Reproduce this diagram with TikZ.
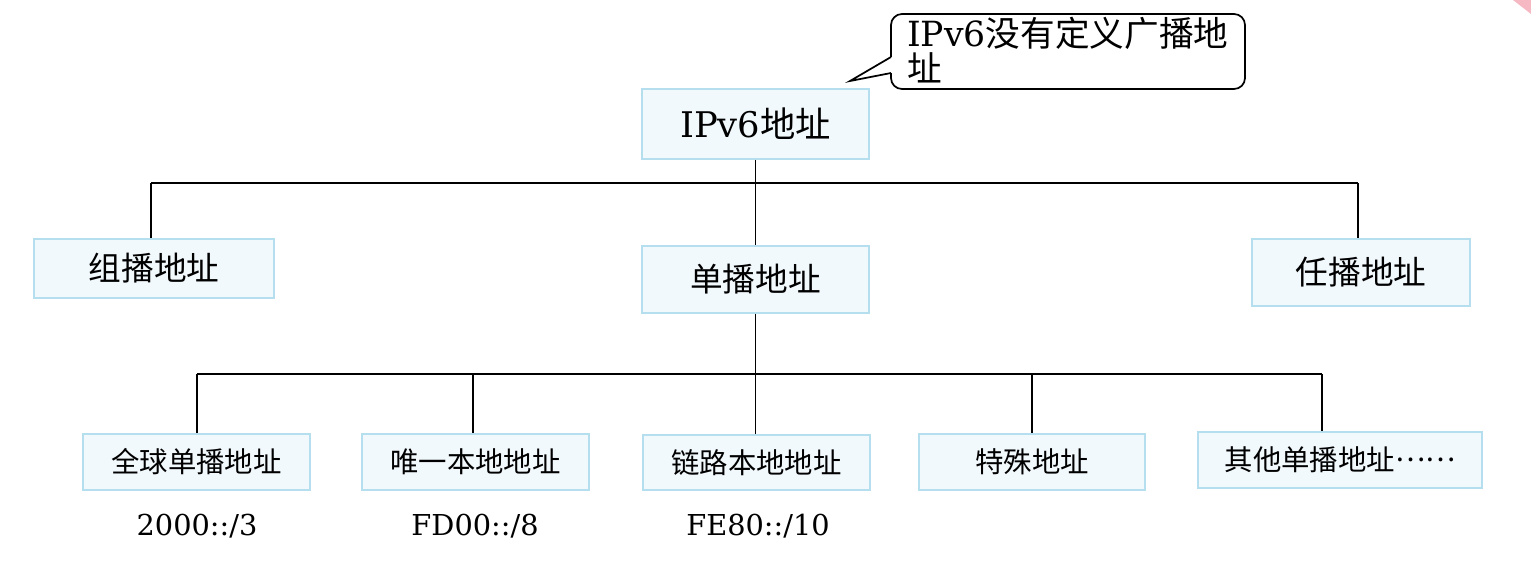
\documentclass[tikz,border=0pt]{standalone}
\usepackage{fontspec}
\setmainfont{DejaVu Serif}
\newfontfamily\cjk{Noto Sans CJK SC}
\definecolor{boxfill}{HTML}{F2F9FD}
\definecolor{boxline}{HTML}{B5DFEF}
\definecolor{pinkc}{HTML}{F6B9C3}
\begin{document}
\begin{tikzpicture}[x=0.75pt,y=-0.75pt,
  box/.style={draw=boxline,fill=boxfill,line width=1.3pt,inner sep=0pt,anchor=center},
  conn/.style={line width=1.4pt,black},
  lvlone/.style={font=\fontsize{26.5}{28}\selectfont},
  lvltwo/.style={font=\cjk\fontsize{24.5}{26}\selectfont},
  lvlthree/.style={font=\cjk\fontsize{21.3}{24}\selectfont},
  pfx/.style={font=\fontsize{21.6}{24}\selectfont,anchor=center}]
\useasboundingbox (0,0) rectangle (1531,569);
\fill[white] (0,0) rectangle (1531,569);
\fill[pinkc] (1513,0) -- (1531,0) -- (1531,14) -- cycle;
% top node
\node[box,lvlone,minimum width=227*0.75pt,minimum height=70*0.75pt] (root) at (755.5,124) {IPv6{\cjk 地址}};
% callout
\draw[line width=1.3pt,rounded corners=11*0.75pt] (891,40) -- (891,14) -- (1245,14) -- (1245,89) -- (891,89) -- (891,73);
\draw[line width=1.3pt,line join=miter] (891,73) -- (850,81) -- (891,57);
\draw[line width=1.3pt] (891,57) -- (891,40);
\node[anchor=north west,align=left,inner sep=0pt,font=\fontsize{26}{26.5}\selectfont] (note) at (907,17) {IPv6{\cjk 没有定义广播地}\\{\cjk 址}};
% level two
\node[box,lvltwo,minimum width=240*0.75pt,minimum height=59*0.75pt] (multi) at (154,268.5) {组播地址};
\node[box,lvltwo,minimum width=227*0.75pt,minimum height=67*0.75pt] (uni) at (755.5,279.5) {单播地址};
\node[box,lvltwo,minimum width=218*0.75pt,minimum height=67*0.75pt] (any) at (1361,272.5) {任播地址};
% level three
\node[box,lvlthree,minimum width=227*0.75pt,minimum height=56*0.75pt] (glob) at (196.5,462) {全球单播地址};
\node[box,lvlthree,minimum width=227*0.75pt,minimum height=56*0.75pt] (ula) at (475.5,462) {唯一本地地址};
\node[box,lvlthree,minimum width=227*0.75pt,minimum height=55*0.75pt] (link) at (756.5,462.5) {链路本地地址};
\node[box,lvlthree,minimum width=226*0.75pt,minimum height=56*0.75pt] (spec) at (1032,462) {特殊地址};
\node[box,lvlthree,minimum width=284*0.75pt,minimum height=56*0.75pt] (other) at (1340,460) {其他单播地址\raisebox{0.32em}{……}};
% prefixes
\node[pfx] (pglob) at (197,526) {2000::/3};
\node[pfx] (pula) at (475,526) {FD00::/8};
\node[pfx] (plink) at (758,526) {FE80::/10};
% connectors
\coordinate (h1l) at (151,183);
\coordinate (h1r) at (1358,183);
\draw[conn] (root.south) -- (uni.north);
\draw[conn] (h1l) -- (h1r);
\draw[conn] (h1l) -- (h1l |- multi.north);
\draw[conn] (h1r) -- (h1r |- any.north);
\coordinate (h2a) at (197,374);
\coordinate (h2b) at (473,374);
\coordinate (h2c) at (755.5,374);
\coordinate (h2d) at (1032,374);
\coordinate (h2e) at (1322,374);
\draw[conn] (uni.south) -- (h2c);
\draw[conn] (h2a) -- (h2e);
\draw[conn] (h2a) -- (h2a |- glob.north);
\draw[conn] (h2b) -- (h2b |- ula.north);
\draw[conn] (h2c) -- (h2c |- link.north);
\draw[conn] (h2d) -- (h2d |- spec.north);
\draw[conn] (h2e) -- (h2e |- other.north);
\end{tikzpicture}
\end{document}
